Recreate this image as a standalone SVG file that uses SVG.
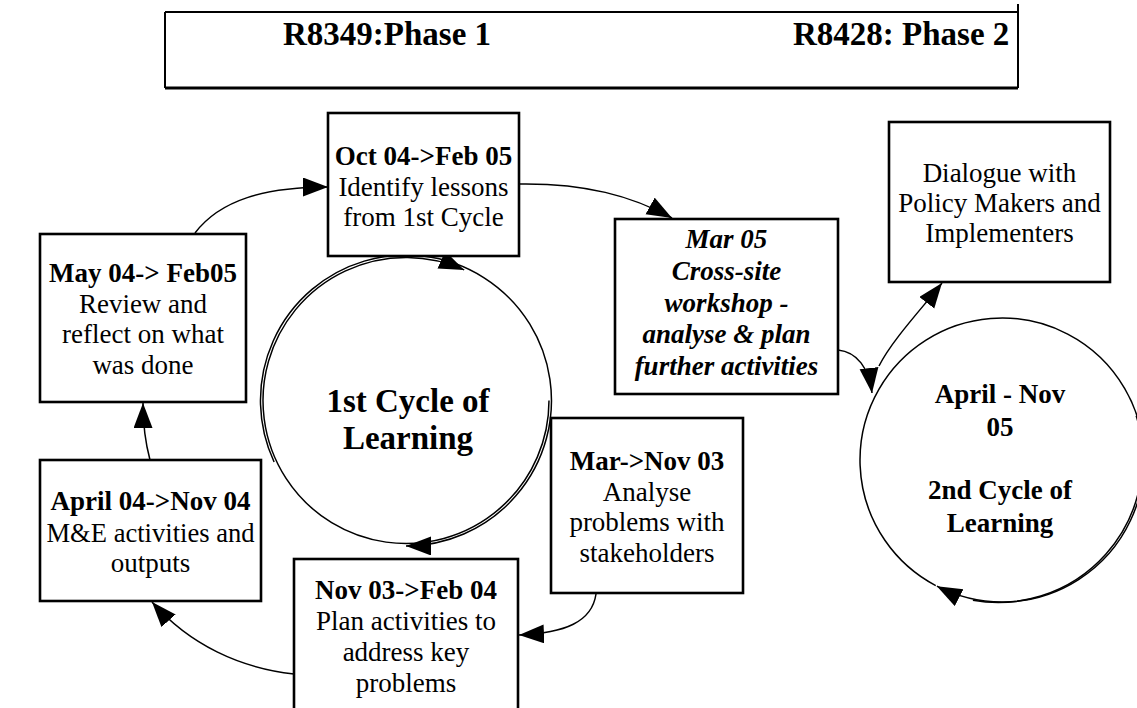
<svg xmlns="http://www.w3.org/2000/svg" width="1137" height="708" viewBox="0 0 1137 708">
  <style>
    text { font-family: "Liberation Serif", "Times New Roman", serif; font-size: 27px; text-anchor: middle; fill: #000; }
    .b { font-weight: bold; }
    .bi { font-weight: bold; font-style: italic; }
    .head { font-size: 33px; font-weight: bold; text-anchor: start; }
    .big { font-size: 33px; font-weight: bold; }
    .box { fill: #fff; stroke: #000; stroke-width: 2.6; }
    .ring { fill: none; stroke: #000; stroke-width: 1.5; }
    .link { fill: none; stroke: #000; stroke-width: 1.5; }
  </style>
  <defs>
    <marker id="arrow" markerUnits="userSpaceOnUse" markerWidth="26" markerHeight="20" refX="25" refY="9.5" orient="auto">
      <path d="M0,0 L25,9.5 L0,19 z" fill="#000"/>
    </marker>
  </defs>

  <rect width="1137" height="708" fill="#fff"/>

  <!-- project phase banner -->
  <g id="banner">
    <line x1="165" y1="12" x2="1018" y2="12" stroke="#000" stroke-width="1.8"/>
    <line x1="165" y1="88" x2="1018" y2="88" stroke="#000" stroke-width="2.8"/>
    <line x1="165" y1="12" x2="165" y2="88" stroke="#000" stroke-width="2"/>
    <line x1="1018" y1="4" x2="1018" y2="88" stroke="#000" stroke-width="2"/>
    <text class="head" x="283" y="45">R8349:Phase 1</text>
    <text class="head" x="793" y="45">R8428: Phase 2</text>
  </g>

  <!-- first cycle of learning: two overlapping clockwise arcs -->
  <g id="cycle1">
    <path class="ring" d="M549,400.5 A143,143 0 1 1 464.2,269.9" marker-end="url(#arrow)"/>
    <path class="ring" d="M274.1,462 A145.5,145.5 0 1 1 406,546" marker-end="url(#arrow)"/>
    <text class="big" x="408" y="412">1st Cycle of</text>
    <text class="big" x="408" y="449">Learning</text>
  </g>

  <!-- second cycle of learning -->
  <g id="cycle2">
    <path class="ring" d="M935.75,585.6 A142,142 0 1 1 936.9,586.2" marker-end="url(#arrow)"/>
    <path class="ring" d="M1136.2,415.75 A144.5,144.5 0 0 1 972.9,600.3"/>
    <text class="b" x="1000" y="403">April - Nov</text>
    <text class="b" x="1000" y="436">05</text>
    <text class="b" x="1000" y="499">2nd Cycle of</text>
    <text class="b" x="1000" y="532">Learning</text>
  </g>

  <g id="oct-box">
    <rect class="box" x="328" y="113" width="191" height="143"/>
    <text class="b" x="423.5" y="165">Oct 04-&gt;Feb 05</text>
    <text x="423.5" y="196">Identify lessons</text>
    <text x="423.5" y="226">from 1st Cycle</text>
  </g>

  <g id="mar05-box">
    <rect class="box" x="615" y="219" width="223" height="175"/>
    <text class="bi" x="726.5" y="248">Mar 05</text>
    <text class="bi" x="726.5" y="280">Cross-site</text>
    <text class="bi" x="726.5" y="312">workshop -</text>
    <text class="bi" x="726.5" y="343">analyse &amp; plan</text>
    <text class="bi" x="726.5" y="375">further activities</text>
  </g>

  <g id="dialogue-box">
    <rect class="box" x="889" y="122" width="221" height="160"/>
    <text x="999.5" y="182">Dialogue with</text>
    <text x="999.5" y="212">Policy Makers and</text>
    <text x="999.5" y="242">Implementers</text>
  </g>

  <g id="may-box">
    <rect class="box" x="40" y="234" width="206" height="168"/>
    <text class="b" x="143" y="282">May 04-&gt; Feb05</text>
    <text x="143" y="313">Review and</text>
    <text x="143" y="343">reflect on what</text>
    <text x="143" y="374">was done</text>
  </g>

  <g id="marnov-box">
    <rect class="box" x="551" y="418" width="192" height="175"/>
    <text class="b" x="647" y="470">Mar-&gt;Nov 03</text>
    <text x="647" y="501">Analyse</text>
    <text x="647" y="531">problems with</text>
    <text x="647" y="562">stakeholders</text>
  </g>

  <g id="nov-box">
    <rect class="box" x="294" y="559" width="224" height="160"/>
    <text class="b" x="406" y="599">Nov 03-&gt;Feb 04</text>
    <text x="406" y="630">Plan activities to</text>
    <text x="406" y="661">address key</text>
    <text x="406" y="692">problems</text>
  </g>

  <g id="april-box">
    <rect class="box" x="40" y="460" width="221" height="141"/>
    <text class="b" x="150.5" y="510">April 04-&gt;Nov 04</text>
    <text x="150.5" y="542" textLength="208" lengthAdjust="spacingAndGlyphs">M&amp;E activities and</text>
    <text x="150.5" y="572">outputs</text>
  </g>

  <g id="connectors">
    <path class="link" d="M195,233 C220,200 265,187 328,187" marker-end="url(#arrow)"/>
    <path class="link" d="M519,184 C585,183 632,196 672,218" marker-end="url(#arrow)"/>
    <path class="link" d="M838,350 C857,352 869,368 872,393" marker-end="url(#arrow)"/>
    <path class="link" d="M879,366 C892,340 925,305 942,283" marker-end="url(#arrow)"/>
    <path class="link" d="M596,594 C592,622 565,633 519,635" marker-end="url(#arrow)"/>
    <path class="link" d="M294,674 C240,668 190,645 152,602" marker-end="url(#arrow)"/>
    <path class="link" d="M150,460 C146,445 143,430 143,403" marker-end="url(#arrow)"/>
  </g>
</svg>
